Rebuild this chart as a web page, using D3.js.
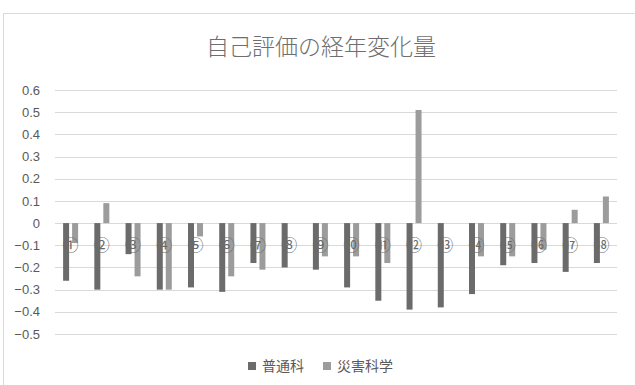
<!DOCTYPE html>
<html>
<head>
<meta charset="utf-8">
<script src="https://cdn.jsdelivr.net/npm/d3@7"></script>
<style>
  html, body { margin: 0; padding: 0; background: #fff; }
  svg { display: block; }
</style>
</head>
<body>
<svg id="chart" width="635" height="385"></svg>
<script>
// Category labels (circled item numbers)
const categories = ["①","②","③","④","⑤","⑥","⑦","⑧","⑨","⑩","⑪","⑫","⑬","⑭","⑮","⑯","⑰","⑱"];
// Yearly change in self-assessment, general course
const futsuka = [-0.26,-0.30,-0.14,-0.30,-0.29,-0.31,-0.18,-0.20,-0.21,-0.29,-0.35,-0.39,-0.38,-0.32,-0.19,-0.18,-0.22,-0.18];
// Yearly change in self-assessment, disaster science course
const saigai = [-0.09,0.09,-0.24,-0.30,-0.06,-0.24,-0.21,0,-0.15,-0.15,-0.18,0.51,0,-0.15,-0.15,-0.12,0.06,0.12];
const seriesNames = ["普通科","災害科学"];
const yTicks = [0.6,0.5,0.4,0.3,0.2,0.1,0,-0.1,-0.2,-0.3,-0.4,-0.5];
const title = "自己評価の経年変化量";

const colors = ["#6b6b6b", "#9c9c9c"];
const font = "'Noto Sans CJK JP', 'Noto Sans', sans-serif";

const svg = d3.select("#chart");

// outer chart frame
svg.append("rect")
  .attr("x", 3.5).attr("y", 13.5)
  .attr("width", 640).attr("height", 400)
  .attr("fill", "#fff").attr("stroke", "#d9d9d9").attr("stroke-width", 1);

const plot = { left: 55, right: 617, top: 90, bottom: 334 };

const x = d3.scaleBand()
  .domain(categories)
  .range([plot.left, plot.right])
  .padding(0);

const y = d3.scaleLinear()
  .domain([-0.5, 0.6])
  .range([plot.bottom, plot.top]);

// horizontal gridlines
svg.append("g")
  .selectAll("line")
  .data(yTicks)
  .join("line")
  .attr("x1", plot.left).attr("x2", plot.right)
  .attr("y1", d => Math.round(y(d)) + 0.5)
  .attr("y2", d => Math.round(y(d)) + 0.5)
  .attr("stroke", "#d9d9d9").attr("stroke-width", 1);

// value axis labels
const yAxis = d3.axisLeft(y)
  .tickValues(yTicks)
  .tickSize(0)
  .tickPadding(0)
  .tickFormat(d => d === 0 ? "0" : d3.format(".1f")(d));

svg.append("g")
  .attr("transform", `translate(40,0)`)
  .call(yAxis)
  .call(g => g.select(".domain").remove())
  .call(g => g.selectAll("text")
    .attr("fill", "#595959")
    .attr("font-size", 13)
    .attr("font-family", "'Liberation Sans', 'Noto Sans', sans-serif"));

// bars
const barW = 6, gap = 3;
const data = categories.map((c, i) => ({ c, vals: [futsuka[i], saigai[i]] }));

const groups = svg.append("g").selectAll("g")
  .data(data)
  .join("g")
  .attr("transform", d => `translate(${x(d.c) + x.bandwidth() / 2},0)`);

groups.selectAll("rect")
  .data(d => d.vals.map((v, k) => ({ v, k })))
  .join("rect")
  .attr("x", d => d.k === 0 ? -(barW + gap / 2) : gap / 2)
  .attr("width", barW)
  .attr("y", d => y(Math.max(0, d.v)))
  .attr("height", d => Math.abs(y(d.v) - y(0)))
  .attr("fill", d => colors[d.k]);

// category labels sitting just below the zero line
svg.append("g")
  .selectAll("text")
  .data(data)
  .join("text")
  .attr("x", d => x(d.c) + x.bandwidth() / 2)
  .attr("y", y(0) + 28)
  .attr("text-anchor", "middle")
  .attr("font-size", 16)
  .attr("font-family", font)
  .attr("fill", "#6a6a6a")
  .text(d => d.c);

// title
svg.append("text")
  .attr("x", 321).attr("y", 55)
  .attr("text-anchor", "middle")
  .attr("font-size", 23)
  .attr("font-weight", 300)
  .attr("font-family", font)
  .attr("fill", "#6e6e6e")
  .text(title);

// legend
const legendX = [248, 323];
const legend = svg.append("g").selectAll("g")
  .data(seriesNames)
  .join("g")
  .attr("transform", (d, i) => `translate(${legendX[i]},366)`);

legend.append("rect")
  .attr("x", 0).attr("y", -4)
  .attr("width", 8).attr("height", 8)
  .attr("fill", (d, i) => colors[i]);

legend.append("text")
  .attr("x", 14).attr("y", 5)
  .attr("font-size", 14)
  .attr("font-family", font)
  .attr("fill", "#595959")
  .text(d => d);
</script>
</body>
</html>
